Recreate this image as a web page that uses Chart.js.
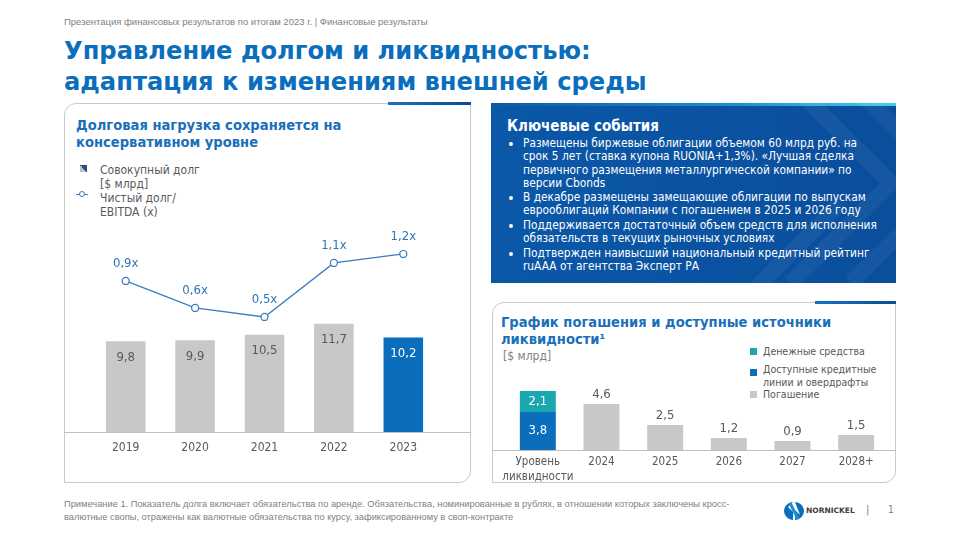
<!DOCTYPE html>
<html><head><meta charset="utf-8">
<script src="https://cdn.jsdelivr.net/npm/chart.js@4.4.1/dist/chart.umd.min.js"></script>
<style>
html,body{margin:0;padding:0;background:#fff;}
#slide{position:relative;width:960px;height:540px;overflow:hidden;font-family:'DejaVu Sans Condensed','DejaVu Sans',sans-serif;color:#595959;}
.abs{position:absolute;white-space:nowrap;}
.narrow{font-family:'Liberation Sans Narrow','Liberation Sans',sans-serif;}
#hdr{left:64px;top:16px;font-size:9.5px;color:#7f7f7f;}
#title{left:64px;top:36px;font-size:24.2px;line-height:31px;font-weight:bold;color:#0a6ebd;font-family:'DejaVu Sans',sans-serif;}
.panel{position:absolute;border:1px solid #c9c9c9;border-radius:12px 0 12px 0;box-sizing:border-box;}
.accent{position:absolute;height:3px;background:linear-gradient(90deg,#1673c4,#0b4d93);}
.ptitle{font-size:14.6px;line-height:17px;font-weight:bold;color:#1b6fb9;}
.leg{font-size:12px;line-height:14px;color:#595959;}
#blue{position:absolute;left:491px;top:103px;width:405px;height:180px;background:linear-gradient(90deg,#0b58a8,#0a4e9c);overflow:hidden;}
#blue .bar{position:absolute;left:0;top:0;width:100%;height:3px;background:linear-gradient(90deg,#0b5aaa,#1d8fd0 60%,#3fd0e6);}
#blue h3{position:absolute;left:16px;top:14px;margin:0;font-size:15px;font-weight:bold;color:#fff;white-space:nowrap;}
#blue ul{position:absolute;left:21px;top:34px;margin:0;padding:0 0 0 11px;color:#fff;font-size:11.8px;line-height:13.25px;white-space:nowrap;}
#blue li{margin:0 0 1.2px 0;}
#foot{left:64px;top:498px;font-size:9.3px;line-height:13px;color:#7f7f7f;}
canvas{position:absolute;}
</style></head>
<body><div id="slide">
<div id="hdr" class="abs narrow">Презентация финансовых результатов по итогам 2023 г. | Финансовые результаты</div>
<div id="title" class="abs">Управление долгом и ликвидностью:<br>адаптация к изменениям внешней среды</div>

<div class="panel" style="left:64px;top:103px;width:407px;height:380px;"></div>
<div class="accent" style="left:388px;top:102px;width:83px;"></div>
<div class="abs ptitle" style="left:76px;top:116px;">Долговая нагрузка сохраняется на<br>консервативном уровне</div>
<div class="abs" style="left:80px;top:165px;width:7px;height:7px;background:linear-gradient(45deg,#bfbfbf 50%,#1f4e8c 50%);"></div>
<div class="abs leg" style="left:100px;top:163px;">Совокупный долг<br>[$ млрд]</div>
<div class="abs" style="left:76px;top:193.5px;width:12px;height:1.3px;background:#3b7dc0;"></div>
<div class="abs" style="left:79px;top:191px;width:4px;height:4px;border:1.2px solid #3b7dc0;border-radius:50%;background:#fff;"></div>
<div class="abs leg" style="left:100px;top:191px;">Чистый долг/<br>EBITDA (x)</div>
<canvas id="c1" width="406" height="250" style="left:64px;top:220px;"></canvas>

<div id="blue">
<div class="bar"></div>
<svg width="405" height="180" style="position:absolute;left:0;top:0">
<g fill="none" stroke="rgba(255,255,255,0.05)" stroke-width="16">
<path d="M300,-20 L400,80 L300,180"/>
<path d="M360,-20 L460,80 L360,180"/>
<path d="M250,200 L350,100"/>
</g></svg>
<h3>Ключевые события</h3>
<ul>
<li>Размещены биржевые облигации объемом 60 млрд руб. на<br>срок 5 лет (ставка купона RUONIA+1,3%). «Лучшая сделка<br>первичного размещения металлургической компании» по<br>версии Cbonds</li>
<li>В декабре размещены замещающие облигации по выпускам<br>еврооблигаций Компании с погашением в 2025 и 2026 году</li>
<li>Поддерживается достаточный объем средств для исполнения<br>обязательств в текущих рыночных условиях</li>
<li>Подтвержден наивысший национальный кредитный рейтинг<br>ruAAA от агентства Эксперт РА</li>
</ul>
</div>

<div class="panel" style="left:492px;top:302px;width:404px;height:181px;"></div>
<div class="accent" style="left:815px;top:301px;width:81px;"></div>
<div class="abs ptitle" style="left:501px;top:313px;">График погашения и доступные источники<br>ликвидности¹</div>
<div class="abs" style="left:503px;top:349px;font-size:12px;color:#7f7f7f;">[$ млрд]</div>
<div class="abs" style="left:750px;top:348px;width:7px;height:7px;background:#1aa7b0;"></div>
<div class="abs" style="left:750px;top:369px;width:7px;height:7px;background:#0a6ebd;"></div>
<div class="abs" style="left:750px;top:391px;width:7px;height:7px;background:#c8c8c8;"></div>
<div class="abs" style="left:763px;top:345px;font-size:10.5px;line-height:13px;">Денежные средства</div>
<div class="abs" style="left:763px;top:363px;font-size:10.5px;line-height:13px;">Доступные кредитные<br>линии и овердрафты</div>
<div class="abs" style="left:763px;top:388px;font-size:10.5px;line-height:13px;">Погашение</div>
<canvas id="c2" width="404" height="175" style="left:492px;top:310px;"></canvas>

<div id="foot" class="abs narrow">Примечание 1. Показатель долга включает обязательства по аренде. Обязательства, номинированные в рублях, в отношении которых заключены кросс-<br>валютные свопы, отражены как валютные обязательства по курсу, зафиксированному в своп-контракте</div>
<svg class="abs" style="left:784px;top:501px" width="20" height="20" viewBox="0 0 20 20">
<path d="M9,1 A9,9 0 0 0 9,19 L9,11 L4,6 Z" fill="#0a6ebd"/>
<path d="M11,1 A9,9 0 0 1 11,19 L11,9 L16,14 Z" fill="#0a6ebd"/>
<path d="M6,2 L14,18" stroke="#1d8fd0" stroke-width="3"/>
</svg>
<div class="abs" style="left:806px;top:506px;font-size:7.5px;font-weight:bold;color:#404040;font-family:'DejaVu Sans',sans-serif;">NORNICKEL</div>
<div class="abs" style="left:866px;top:503px;font-size:11px;color:#7f7f7f;">|</div>
<div class="abs" style="left:888px;top:504px;font-size:10px;color:#7f7f7f;">1</div>
</div>

<script>
// ---- data ----
const years = ['2019', '2020', '2021', '2022', '2023'];
const totalDebt = [9.8, 9.9, 10.5, 11.7, 10.2];
const netDebtToEbitda = [0.9, 0.6, 0.5, 1.1, 1.2];

const repayCategories = [['Уровень', 'ликвидности'], '2024', '2025', '2026', '2027', '2028+'];
const creditLines = [3.8, null, null, null, null, null];
const cashFunds = [2.1, null, null, null, null, null];
const repayments = [null, 4.6, 2.5, 1.2, 0.9, 1.5];

// ---- styles ----
const FONT = "'DejaVu Sans Condensed','DejaVu Sans',sans-serif";
const GRAY = '#c8c8c8', BLUE = '#0a6ebd', TEAL = '#1aa7b0', LINE = '#3b7dc0', TXT = '#595959';
Chart.defaults.font.family = FONT;
Chart.defaults.color = TXT;
Chart.defaults.animation = false;

const fmt = v => v.toFixed(1).replace('.', ',');

const valueLabels = {
  id: 'valueLabels',
  afterDatasetsDraw(chart) {
    const ctx = chart.ctx;
    ctx.save();
    chart.data.datasets.forEach((ds, i) => {
      const meta = chart.getDatasetMeta(i);
      const lab = ds.lbl;
      if (!lab) return;
      meta.data.forEach((el, j) => {
        const v = ds.data[j];
        if (v == null) return;
        ctx.font = (lab.size || 13) + 'px ' + FONT;
        ctx.textAlign = 'center';
        ctx.textBaseline = 'middle';
        ctx.fillStyle = typeof lab.color === 'function' ? lab.color(j) : lab.color;
        let y;
        if (lab.mode === 'insideTop') y = el.y + lab.off;
        else if (lab.mode === 'center') y = (el.y + el.base) / 2;
        else y = el.y - lab.off;
        ctx.fillText(fmt(v) + (lab.suffix || ''), el.x, y);
      });
    });
    ctx.restore();
  }
};

const fullAxisLine = {
  id: 'fullAxisLine',
  beforeDatasetsDraw(chart) {
    const ctx = chart.ctx, y = Math.round(chart.chartArea.bottom) + 0.5;
    ctx.save();
    ctx.strokeStyle = '#bfbfbf';
    ctx.lineWidth = 1;
    ctx.beginPath(); ctx.moveTo(0, y); ctx.lineTo(chart.width, y); ctx.stroke();
    ctx.restore();
  }
};

new Chart(document.getElementById('c1'), {
  data: {
    labels: years,
    datasets: [
      {
        type: 'line', label: 'Чистый долг/EBITDA (x)', data: netDebtToEbitda, yAxisID: 'y1',
        borderColor: LINE, borderWidth: 1.3, pointRadius: 3.5, pointBorderWidth: 1.3,
        pointBackgroundColor: '#fff', pointBorderColor: LINE, tension: 0, order: 0,
        lbl: { mode: 'above', off: 17, color: '#2e75b6', suffix: 'x', size: 13 }
      },
      {
        type: 'bar', label: 'Совокупный долг [$ млрд]', data: totalDebt, yAxisID: 'y',
        backgroundColor: c => c.dataIndex === years.length - 1 ? BLUE : GRAY,
        barPercentage: 0.57, categoryPercentage: 1, order: 1,
        lbl: { mode: 'insideTop', off: 16, color: j => j === years.length - 1 ? '#fff' : TXT, size: 13 }
      }
    ]
  },
  options: {
    responsive: false,
    layout: { padding: { left: 27, right: 32, top: 30, bottom: 0 } },
    plugins: { legend: { display: false }, tooltip: { enabled: false } },
    scales: {
      x: {
        grid: { display: false, drawTicks: false }, border: { display: false },
        ticks: { font: { size: 12 }, color: TXT, padding: 9 },
        afterFit: s => { s.height = 38; }
      },
      y: { display: false, min: 0, max: 19.65 },
      y1: { display: false, min: -0.778, max: 1.244 }
    }
  },
  plugins: [fullAxisLine, valueLabels]
});

new Chart(document.getElementById('c2'), {
  type: 'bar',
  data: {
    labels: repayCategories,
    datasets: [
      { label: 'Доступные кредитные линии и овердрафты', data: creditLines, backgroundColor: BLUE,
        lbl: { mode: 'center', color: '#fff', size: 13 } },
      { label: 'Денежные средства', data: cashFunds, backgroundColor: TEAL,
        lbl: { mode: 'center', color: '#fff', size: 13 } },
      { label: 'Погашение', data: repayments, backgroundColor: GRAY,
        lbl: { mode: 'above', off: 9.5, color: TXT, size: 13 } }
    ]
  },
  options: {
    responsive: false,
    datasets: { bar: { barPercentage: 0.565, categoryPercentage: 1 } },
    layout: { padding: { left: 14, right: 8, top: 30, bottom: 0 } },
    plugins: { legend: { display: false }, tooltip: { enabled: false } },
    scales: {
      x: {
        stacked: true,
        grid: { display: false, drawTicks: false }, border: { display: false },
        ticks: { font: { size: 11.5, lineHeight: 1.3 }, color: TXT, padding: 4.5, maxRotation: 0, autoSkip: false },
        afterFit: s => { s.height = 35; }
      },
      y: { stacked: true, display: false, min: 0, max: 11 }
    }
  },
  plugins: [fullAxisLine, valueLabels]
});
</script>
</body></html>
